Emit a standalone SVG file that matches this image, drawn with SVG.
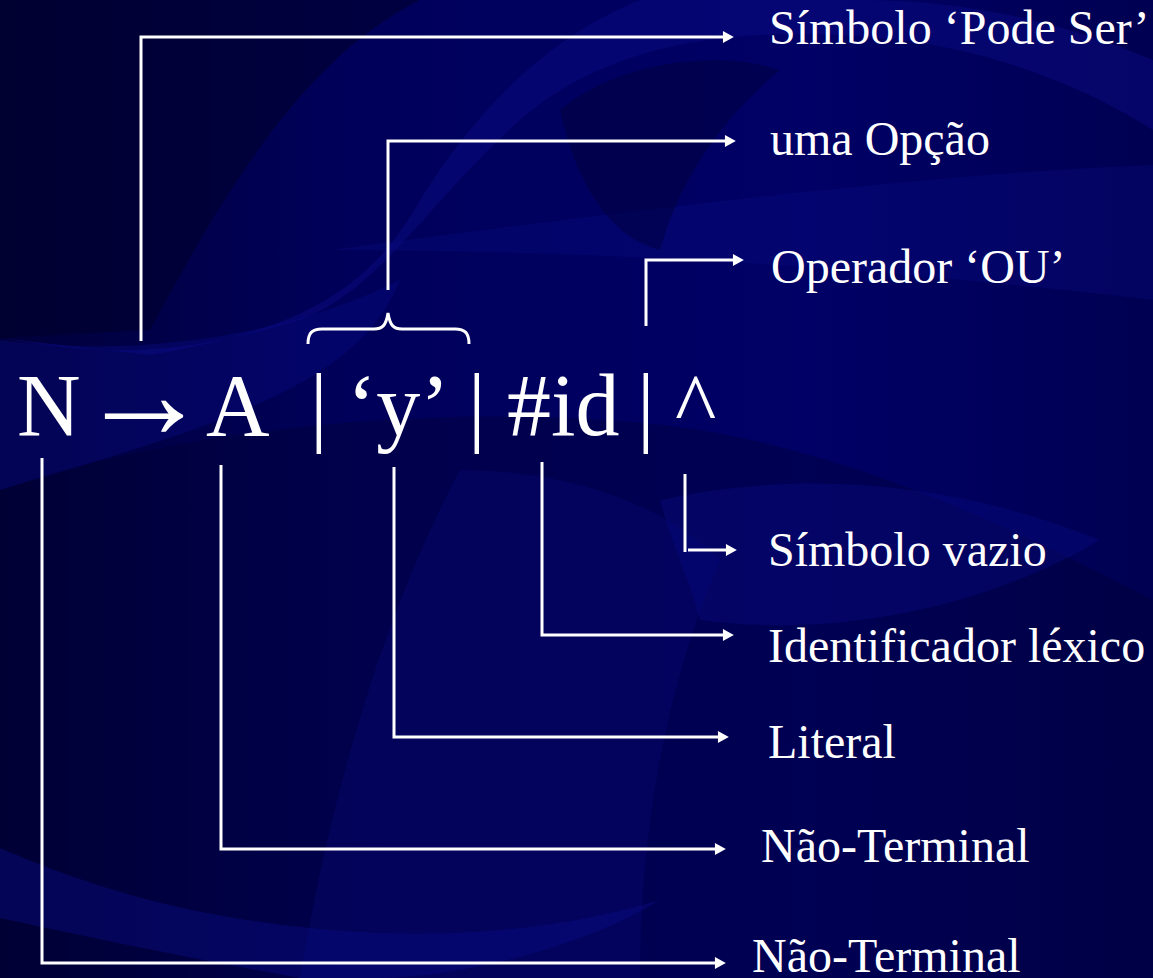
<svg xmlns="http://www.w3.org/2000/svg" width="1153" height="978" viewBox="0 0 1153 978">
  <defs>
    <linearGradient id="bgBase" x1="0" y1="0" x2="1" y2="0">
      <stop offset="0" stop-color="#00003a"/>
      <stop offset="0.3" stop-color="#00005a"/>
      <stop offset="0.7" stop-color="#000066"/>
      <stop offset="1" stop-color="#000052"/>
    </linearGradient>
    <marker id="arrow" markerUnits="userSpaceOnUse" markerWidth="12" markerHeight="12" viewBox="0 0 10 11" refX="1" refY="5.5" orient="auto">
      <path d="M0,0 L10,5.5 L0,11 z" fill="#ffffff"/>
    </marker>
    <style>
      .lbl { font-family: "Liberation Serif", "Times New Roman", serif; font-size: 48px; fill: #ffffff; }
      .expr { font-family: "Liberation Serif", "Times New Roman", serif; font-size: 88px; fill: #ffffff; }
      .sym { font-family: "Liberation Serif", "Times New Roman", serif; font-size: 132px; fill: #ffffff; }
      .conn { fill: none; stroke: #ffffff; stroke-width: 3; }
      .swoosh { fill: #0a0c86; }
      .shade { fill: #00002a; }
    </style>
  </defs>

  <!-- backdrop -->
  <rect width="1153" height="978" fill="url(#bgBase)"/>
  <g id="backdrop-swooshes">
    <path class="shade" opacity="0.55" d="M0,0 H420 C300,60 220,200 150,330 L0,338 Z"/>
    <path class="swoosh" opacity="0.45" d="M0,338 C120,360 200,350 300,320 C380,290 430,200 520,120 C600,50 720,20 900,40 C1000,52 1090,90 1153,130 V60 C1060,20 960,0 860,0 H640 C540,40 470,120 420,200 C370,290 300,330 150,355 L0,338 Z"/>
    <path class="swoosh" opacity="0.35" d="M0,340 C150,360 300,330 400,280 C360,380 240,420 0,490 Z"/>
    <path class="swoosh" opacity="0.3" d="M330,250 C600,215 900,175 1153,165 V300 C900,270 620,250 330,250 Z"/>
    <path class="shade" opacity="0.35" d="M560,110 C620,60 720,50 780,70 C720,120 680,180 660,250 C620,240 580,200 560,110 Z"/>
    <path class="shade" opacity="0.3" d="M0,490 C200,420 500,400 700,430 C850,455 1000,520 1153,600 V978 H0 Z"/>
    <path class="swoosh" opacity="0.25" d="M300,978 C330,800 380,620 460,470 C560,470 660,500 720,560 C660,700 640,850 640,978 Z"/>
    <path class="swoosh" opacity="0.35" d="M660,500 C800,470 950,480 1100,540 C1000,600 850,640 700,620 C690,580 670,540 660,500 Z"/>
    <path class="swoosh" opacity="0.4" d="M0,848 C120,900 220,920 330,930 C450,940 560,930 660,900 C580,950 450,978 380,978 H300 C200,960 100,940 0,918 Z"/>
  </g>

  <!-- grammar rule -->
  <g id="rule">
    <text class="expr" y="435"><tspan x="17">N</tspan><tspan x="206">A</tspan><tspan x="310">|</tspan><tspan x="347">‘y’</tspan><tspan x="468">|</tspan><tspan x="507">#id</tspan><tspan x="637">|</tspan><tspan x="675">^</tspan></text>
    <text class="sym" x="78" y="438">→</text>
  </g>

  <!-- brace over the literal -->
  <g id="brace">
    <path class="conn" d="M308,344 C308,333 312,329 322,329 L374,329 C382,329 386,326 388,313 C390,326 394,329 402,329 L455,329 C465,329 469,333 469,344"/>
  </g>

  <!-- connectors -->
  <g id="connectors">
    <path class="conn" marker-end="url(#arrow)" d="M141,341 V37 H724"/>
    <path class="conn" marker-end="url(#arrow)" d="M388,290 V141 H726"/>
    <path class="conn" marker-end="url(#arrow)" d="M646,326 V260 H734"/>
    <path class="conn" d="M685,474 V552"/>
    <path class="conn" marker-end="url(#arrow)" d="M688,550 H727"/>
    <path class="conn" marker-end="url(#arrow)" d="M542,462 V635 H724"/>
    <path class="conn" marker-end="url(#arrow)" d="M394,467 V737 H719"/>
    <path class="conn" marker-end="url(#arrow)" d="M221,465 V849 H716"/>
    <path class="conn" marker-end="url(#arrow)" d="M42,458 V963 H716"/>
  </g>

  <!-- labels -->
  <g id="label-pode-ser"><text class="lbl" x="769" y="44">Símbolo ‘Pode Ser’</text></g>
  <g id="label-opcao"><text class="lbl" x="770" y="155">uma Opção</text></g>
  <g id="label-ou"><text class="lbl" x="771" y="283">Operador ‘OU’</text></g>
  <g id="label-vazio"><text class="lbl" x="768" y="566">Símbolo vazio</text></g>
  <g id="label-lexico"><text class="lbl" x="768" y="662">Identificador léxico</text></g>
  <g id="label-literal"><text class="lbl" x="768" y="758">Literal</text></g>
  <g id="label-nt-a"><text class="lbl" x="761" y="862">Não-Terminal</text></g>
  <g id="label-nt-n"><text class="lbl" x="752" y="972">Não-Terminal</text></g>
</svg>
